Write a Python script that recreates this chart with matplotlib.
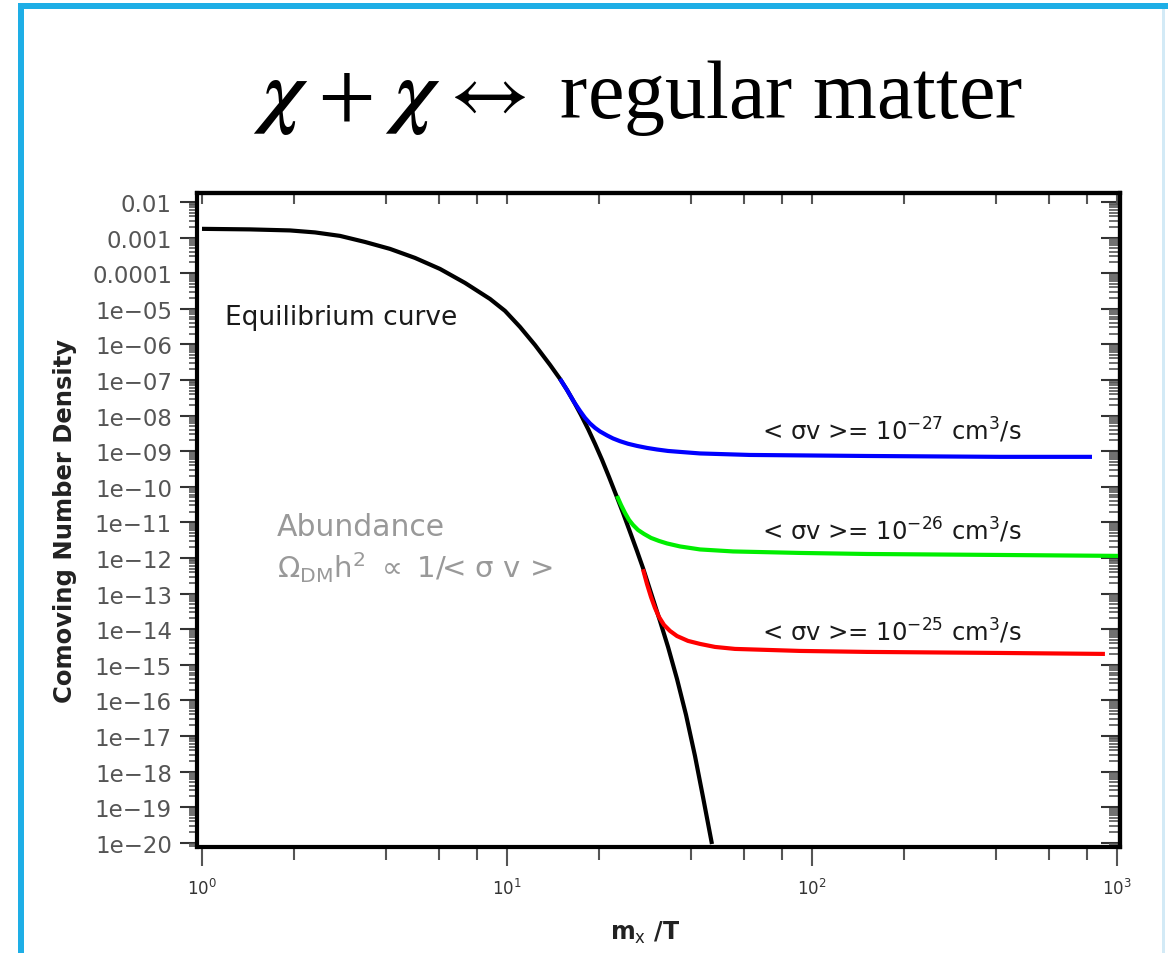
import numpy as np
import matplotlib.pyplot as plt
from matplotlib.ticker import LogLocator, FixedLocator, NullFormatter
from matplotlib.patches import Rectangle

# ── Data ────────────────────────────────────────────────────────────────────
eq_x = [1.0, 1.437, 1.943, 2.347, 2.835, 3.422, 4.134, 4.994, 6.03, 7.285,
        8.797, 9.85, 11.03, 12.35, 13.84, 14.92, 15.73, 16.58, 17.48, 18.44,
        19.44, 20.49, 21.60, 22.78, 24.01, 25.31, 26.68, 27.92, 29.66, 31.74,
        33.73, 36.09, 38.64, 41.34, 43.91, 46.99]
eq_y = [1.75e-3, 1.69e-3, 1.58e-3, 1.39e-3, 1.11e-3, 7.5e-4, 4.79e-4, 2.67e-4,
        1.31e-4, 5.3e-5, 1.88e-5, 8.7e-6, 3.08e-6, 9.6e-7, 2.64e-7, 1.07e-7,
        5.24e-8, 2.41e-8, 1.04e-8, 4.2e-9, 1.59e-9, 5.7e-10, 1.88e-10, 5.9e-11,
        1.84e-11, 5.4e-12, 1.57e-12, 5.2e-13, 1.04e-13, 1.70e-14, 3.16e-15,
        3.99e-16, 3.89e-17, 2.74e-18, 1.94e-19, 9.2e-21]

sv27_x = [14.92, 15.73, 16.58, 17.35, 18.02, 18.71, 19.44, 20.18, 21.28, 22.26,
          23.47, 24.93, 26.68, 28.77, 31.03, 33.73, 36.92, 42.94, 62.6, 151.5,
          413, 828]
sv27_y = [1.07e-7, 5.24e-8, 2.41e-8, 1.35e-8, 8.6e-9, 6.0e-9, 4.49e-9, 3.57e-9,
          2.76e-9, 2.27e-9, 1.90e-9, 1.61e-9, 1.40e-9, 1.23e-9, 1.11e-9, 1.01e-9,
          9.5e-10, 8.6e-10, 7.8e-10, 7.3e-10, 6.9e-10, 6.9e-10]

sv26_x = [22.95, 23.65, 24.37, 25.12, 25.89, 26.89, 28.13, 29.66, 31.50, 33.47,
          36.92, 42.94, 55.1, 91.3, 151.5, 413, 1008]
sv26_y = [5.5e-11, 3.08e-11, 1.84e-11, 1.17e-11, 8.45e-12, 6.1e-12, 4.72e-12,
          3.65e-12, 3.0e-12, 2.55e-12, 2.10e-12, 1.73e-12, 1.52e-12, 1.38e-12,
          1.29e-12, 1.21e-12, 1.14e-12]

sv25_x = [27.92, 28.77, 29.66, 30.56, 31.50, 32.72, 34.23, 36.09, 39.21, 42.94,
          48.08, 55.9, 91.3, 151.5, 413, 913]
sv25_y = [4.8e-13, 1.86e-13, 8.0e-14, 3.94e-14, 2.20e-14, 1.31e-14, 8.9e-15,
          6.4e-15, 4.67e-15, 3.84e-15, 3.16e-15, 2.78e-15, 2.44e-15, 2.29e-15,
          2.14e-15, 2.01e-15]

sv_labels = ["-27", "-26", "-25"]
sv_label_y = [10 ** -8.38, 10 ** -11.19, 10 ** -14.05]

y_ticks = [10.0 ** -k for k in range(2, 21)]
y_tick_labels = ["0.01", "0.001", "0.0001"] + ["1e\u2212%02d" % k for k in range(5, 21)]
x_ticks = [1, 10, 100, 1000]
x_tick_labels = [r"$10^{0}$", r"$10^{1}$", r"$10^{2}$", r"$10^{3}$"]

plt.rcParams["font.family"] = ["DejaVu Sans"]

# ── Figure ──────────────────────────────────────────────────────────────────
fig = plt.figure(figsize=(11.68, 9.54), dpi=100, facecolor="white")

# slide frame
fig.add_artist(Rectangle((18 / 1168, 0), 6 / 1168, 1 - 4 / 954,
                         transform=fig.transFigure, color="#1eaee6", lw=0))
fig.add_artist(Rectangle((18 / 1168, 1 - 10 / 954), 1, 6 / 954,
                         transform=fig.transFigure, color="#1eaee6", lw=0))
fig.add_artist(Rectangle((1162 / 1168, 0), 3 / 1168, 1 - 10 / 954,
                         transform=fig.transFigure, color="#d3eaf6", lw=0))

fig.text(0.546, 1 - 118 / 954,
         r"$\boldsymbol{\chi}\,+\,\boldsymbol{\chi}\,\leftrightarrow$ regular matter",
         fontsize=59, family=["Liberation Serif", "DejaVu Serif"], math_fontfamily="stix",
         ha="center", va="baseline", color="black")

ax = fig.add_axes([197 / 1168, 1 - 848 / 954, 923 / 1168, 654 / 954])
ax.set_xscale("log")
ax.set_yscale("log")
ax.set_xlim(0.963, 1023)
ax.set_ylim(10 ** -20.12, 10 ** -1.75)

ax.plot(eq_x, eq_y, color="black", lw=3, solid_capstyle="butt", zorder=3)
ax.plot(sv27_x, sv27_y, color="#0000ff", lw=3, solid_capstyle="butt", zorder=4)
ax.plot(sv26_x, sv26_y, color="#00ee00", lw=3, solid_capstyle="butt", zorder=4)
ax.plot(sv25_x, sv25_y, color="#ff0000", lw=3, solid_capstyle="butt", zorder=4)

for sp in ax.spines.values():
    sp.set_linewidth(3)

# left / bottom ticks (outward, labelled)
ax.yaxis.set_major_locator(FixedLocator(y_ticks))
ax.set_yticklabels(y_tick_labels)
ax.yaxis.set_minor_locator(LogLocator(base=10, subs=np.arange(2, 10), numticks=300))
ax.yaxis.set_minor_formatter(NullFormatter())
ax.xaxis.set_major_locator(FixedLocator(x_ticks))
ax.set_xticklabels(x_tick_labels)
ax.xaxis.set_minor_locator(LogLocator(base=10, subs=[2, 4, 6, 8], numticks=50))
ax.xaxis.set_minor_formatter(NullFormatter())

ax.tick_params(axis="y", which="major", direction="out", length=12, width=1.5,
               color="#333333", labelcolor="#555555", labelsize=16.5, pad=6,
               right=False)
ax.tick_params(axis="y", which="minor", direction="out", length=6, width=1.2,
               color="#555555", right=False)
ax.tick_params(axis="x", which="major", direction="out", length=14, width=1.5,
               color="#555555", labelcolor="#333333", labelsize=12, pad=8,
               top=False)
ax.tick_params(axis="x", which="minor", direction="out", length=9, width=1.5,
               color="#555555", top=False)

# right / top ticks (inward, no labels)
secy = ax.secondary_yaxis("right")
secy.yaxis.set_major_locator(FixedLocator(y_ticks))
secy.yaxis.set_major_formatter(NullFormatter())
secy.yaxis.set_minor_locator(LogLocator(base=10, subs=np.arange(2, 10), numticks=300))
secy.yaxis.set_minor_formatter(NullFormatter())
secy.tick_params(which="major", direction="in", length=14, width=1.5, color="#333333")
secy.tick_params(which="minor", direction="in", length=8, width=1.2, color="#555555")
secy.spines["right"].set_linewidth(3)

secx = ax.secondary_xaxis("top")
secx.xaxis.set_major_locator(FixedLocator(x_ticks))
secx.xaxis.set_major_formatter(NullFormatter())
secx.xaxis.set_minor_locator(LogLocator(base=10, subs=[2, 4, 6, 8], numticks=50))
secx.xaxis.set_minor_formatter(NullFormatter())
secx.tick_params(which="both", direction="in", length=8, width=1.5, color="#555555")
secx.spines["top"].set_linewidth(3)

ax.set_ylabel("Comoving Number Density", fontsize=17.5, fontweight="bold", color="#222222")
ax.yaxis.set_label_coords(-0.130, 0.5)
ax.set_xlabel(r"m$_{\rm x}$ /T", fontsize=17, fontweight="bold", color="#222222")
ax.xaxis.set_label_coords(0.485, -0.11)

# annotations
ax.text(1.19, 10 ** -5.23, "Equilibrium curve", fontsize=19, color="#1a1a1a",
        ha="left", va="center")
ax.text(1.76, 10 ** -11.13, "Abundance", fontsize=21.5, color="#999999",
        ha="left", va="center")
ax.text(1.76, 10 ** -12.25, "\u03a9$_{\\rm DM}$h$^{2}$ $\\propto$ 1/< \u03c3 v >",
        fontsize=21, color="#999999", ha="left", va="center",
        math_fontfamily="dejavusans")

for exp, y_lab in zip(sv_labels, sv_label_y):
    ax.text(183, y_lab, "< \u03c3v >= 10$^{%s}$ cm$^{3}$/s" % exp, fontsize=17.5,
            color="#1a1a1a", ha="center", va="center", math_fontfamily="dejavusans")

fig.savefig("out.png", dpi=100, facecolor="white")
